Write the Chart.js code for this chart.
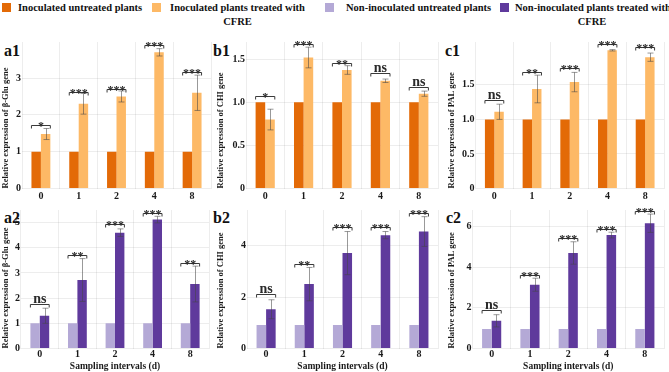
<!DOCTYPE html>
<html>
<head>
<meta charset="utf-8">
<script src="https://cdn.jsdelivr.net/npm/chart.js@4.4.1/dist/chart.umd.min.js"></script>
<style>
  html, body { margin: 0; padding: 0; background: #fff; }
  body { width: 669px; height: 372px; position: relative; overflow: hidden; font-family: "Liberation Serif", "Times New Roman", serif; }
  canvas { position: absolute; }
  .sq { position: absolute; width: 9px; height: 9px; top: 3px; }
  .lg { position: absolute; top: 1px; font-weight: bold; font-size: 10.5px; line-height: 14px; text-align: center; color: #111; white-space: nowrap; }
  .pl { position: absolute; font-weight: bold; font-size: 16px; line-height: 16px; color: #111; }
</style>
</head>
<body>
<div class="sq" style="left:2px;background:#e36a07"></div>
<div class="lg" style="left:18px">Inoculated untreated plants</div>
<div class="sq" style="left:152px;background:#fdb966"></div>
<div class="lg" style="left:170px;width:135px">Inoculated plants treated with<br>CFRE</div>
<div class="sq" style="left:325px;background:#b4a9d6"></div>
<div class="lg" style="left:346px">Non-inoculated untreated plants</div>
<div class="sq" style="left:500px;background:#5f3a9c"></div>
<div class="lg" style="left:515px;width:154px">Non-inoculated plants treated with<br>CFRE</div>

<div class="pl" style="left:4px;top:43px">a1</div>
<div class="pl" style="left:213px;top:43px">b1</div>
<div class="pl" style="left:445px;top:43px">c1</div>
<div class="pl" style="left:4px;top:210px">a2</div>
<div class="pl" style="left:213px;top:210px">b2</div>
<div class="pl" style="left:446px;top:210px">c2</div>

<canvas id="a1" width="213" height="180" style="left:0px;top:26px"></canvas>
<canvas id="b1" width="225" height="180" style="left:215px;top:26px"></canvas>
<canvas id="c1" width="220" height="180" style="left:446px;top:26px"></canvas>
<canvas id="a2" width="211" height="176" style="left:0px;top:196px"></canvas>
<canvas id="b2" width="225" height="176" style="left:215px;top:196px"></canvas>
<canvas id="c2" width="220" height="176" style="left:446px;top:196px"></canvas>

<script>
const days = ["0", "1", "2", "4", "8"];

// a1 - beta-Glu, inoculated
const gluInocUntreated = [1, 1, 1, 1, 1];
const gluInocCfre = [1.48, 2.3, 2.5, 3.7, 2.6];
const gluInocErr = [0.15, 0.28, 0.15, 0.1, 0.48];
const gluInocBracket = [1.73, 2.62, 2.71, 3.91, 3.17];
const gluInocSig = ["*", "***", "***", "***", "***"];

// b1 - CHI, inoculated
const chiInocUntreated = [1, 1, 1, 1, 1];
const chiInocCfre = [0.8, 1.52, 1.375, 1.25, 1.1];
const chiInocErr = [0.12, 0.12, 0.05, 0.02, 0.03];
const chiInocBracket = [1.07, 1.68, 1.46, 1.34, 1.18];
const chiInocSig = ["*", "***", "**", "ns", "ns"];

// c1 - PAL, inoculated
const palInocUntreated = [1, 1, 1, 1, 1];
const palInocCfre = [1.11, 1.44, 1.54, 2.0, 1.9];
const palInocErr = [0.11, 0.2, 0.14, 0.01, 0.06];
const palInocBracket = [1.28, 1.69, 1.74, 2.09, 2.05];
const palInocSig = ["ns", "**", "***", "***", "***"];

// a2 - beta-Glu, non-inoculated
const gluNonUntreated = [1, 1, 1, 1, 1];
const gluNonCfre = [1.3, 2.72, 4.6, 5.12, 2.56];
const gluNonErr = [0.3, 0.85, 0.15, 0.13, 0.71];
const gluNonBracket = [1.76, 3.73, 4.96, 5.4, 3.4];
const gluNonSig = ["ns", "**", "***", "***", "**"];

// b2 - CHI, non-inoculated
const chiNonUntreated = [0.92, 0.92, 0.92, 0.92, 0.92];
const chiNonCfre = [1.53, 2.51, 3.72, 4.42, 4.56];
const chiNonErr = [0.37, 0.65, 0.84, 0.14, 0.58];
const chiNonBracket = [2.14, 3.3, 4.72, 4.75, 5.3];
const chiNonSig = ["ns", "**", "***", "***", "***"];

// c2 - PAL, non-inoculated
const palNonUntreated = [0.96, 0.96, 0.96, 0.96, 0.96];
const palNonCfre = [1.36, 3.13, 4.69, 5.57, 6.15];
const palNonErr = [0.3, 0.32, 0.55, 0.14, 0.45];
const palNonBracket = [1.88, 3.59, 5.42, 5.86, 6.76];
const palNonSig = ["ns", "***", "***", "***", "***"];

const serif = '"Liberation Serif", "Times New Roman", serif';
const tickFont = { family: serif, size: 10, weight: "bold" };
const gridColor = "rgba(0,0,0,0.07)";

// error bars on the treated series + significance brackets
const annotate = {
    id: "annotate",
    afterDatasetsDraw(chart, args, opts) {
        const ctx = chart.ctx;
        const y = chart.scales.y;
        const m0 = chart.getDatasetMeta(0);
        const m1 = chart.getDatasetMeta(1);
        const vals = chart.data.datasets[1].data;
        ctx.save();
        ctx.lineWidth = 1;
        ctx.strokeStyle = "rgba(70,70,70,0.55)";
        m1.data.forEach((bar, i) => {
            const x = Math.round(bar.x) + 0.5;
            const yt = y.getPixelForValue(vals[i] + opts.err[i]);
            const yb = y.getPixelForValue(vals[i] - opts.err[i]);
            ctx.beginPath();
            ctx.moveTo(x, yt); ctx.lineTo(x, yb);
            ctx.moveTo(x - 3, yt); ctx.lineTo(x + 3, yt);
            ctx.moveTo(x - 3, yb); ctx.lineTo(x + 3, yb);
            ctx.stroke();
        });
        ctx.strokeStyle = "#3a3a3a";
        ctx.fillStyle = "#2a2a2a";
        ctx.textAlign = "center";
        ctx.textBaseline = "alphabetic";
        m0.data.forEach((b0, i) => {
            const b1 = m1.data[i];
            const x0 = b0.x - b0.width / 2;
            const x1 = b1.x + b1.width / 2;
            const yb = Math.round(y.getPixelForValue(opts.bracket[i])) + 0.5;
            ctx.beginPath();
            ctx.moveTo(x0, yb + 3); ctx.lineTo(x0, yb); ctx.lineTo(x1, yb); ctx.lineTo(x1, yb + 3);
            ctx.stroke();
            const s = opts.sig[i];
            if (s === "ns") {
                ctx.font = "bold 14px " + serif;
                ctx.fillText(s, (x0 + x1) / 2, yb - 2);
            } else {
                ctx.font = "bold 12px " + serif;
                ctx.fillText(s, (x0 + x1) / 2, yb + 4);
            }
        });
        ctx.restore();
    }
};

function panel(id, p) {
    new Chart(document.getElementById(id), {
        type: "bar",
        data: {
            labels: days,
            datasets: [
                { data: p.untreated, backgroundColor: p.colors[0], categoryPercentage: 0.5, barPercentage: 1 },
                { data: p.treated, backgroundColor: p.colors[1], categoryPercentage: 0.5, barPercentage: 1 }
            ]
        },
        options: {
            responsive: false,
            animation: false,
            devicePixelRatio: 1,
            layout: { padding: { top: p.padTop, right: 2, left: 0, bottom: 0 } },
            plugins: {
                legend: { display: false },
                tooltip: { enabled: false },
                annotate: { err: p.err, bracket: p.bracket, sig: p.sig }
            },
            scales: {
                x: {
                    grid: { color: gridColor, drawTicks: false },
                    border: { display: false },
                    ticks: { font: tickFont, color: "#1a1a1a", padding: p.xPad },
                    title: {
                        display: !!p.xTitle,
                        text: p.xTitle || "",
                        font: { family: serif, size: 9.5, weight: "bold" },
                        color: "#1a1a1a",
                        padding: 0
                    },
                    afterFit: s => { s.height = p.xHeight; }
                },
                y: {
                    min: 0,
                    max: p.max,
                    grid: { color: gridColor, drawTicks: false },
                    border: { display: false },
                    ticks: { stepSize: p.step, font: tickFont, color: "#1a1a1a", padding: 1 },
                    afterBuildTicks: s => {
                        s.ticks = s.ticks.filter(t => Math.abs(t.value / p.step - Math.round(t.value / p.step)) < 1e-6);
                    },
                    title: {
                        display: true,
                        text: p.yTitle,
                        align: "start",
                        font: { family: serif, size: 8.5, weight: "bold" },
                        color: "#1a1a1a",
                        padding: { top: 1, bottom: 0 }
                    },
                    afterFit: s => { s.width = p.yWidth; }
                }
            }
        },
        plugins: [annotate]
    });
}

const inocColors = ["#e36a07", "#fdb966"];
const nonColors = ["#b4a9d6", "#5f3a9c"];

panel("a1", { untreated: gluInocUntreated, treated: gluInocCfre, err: gluInocErr, bracket: gluInocBracket, sig: gluInocSig,
    colors: inocColors, max: 3.98, step: 1, yTitle: "Relative expression of β-Glu gene", yWidth: 22, xHeight: 17.5, padTop: 16, xPad: 2 });
panel("b1", { untreated: chiInocUntreated, treated: chiInocCfre, err: chiInocErr, bracket: chiInocBracket, sig: chiInocSig,
    colors: inocColors, max: 1.7, step: 0.5, yTitle: "Relative expression of CHI gene", yWidth: 31, xHeight: 17.5, padTop: 16, xPad: 2 });
panel("c1", { untreated: palInocUntreated, treated: palInocCfre, err: palInocErr, bracket: palInocBracket, sig: palInocSig,
    colors: inocColors, max: 2.12, step: 0.5, yTitle: "Relative expression of PAL gene", yWidth: 29.5, xHeight: 17.5, padTop: 16, xPad: 2 });
panel("a2", { untreated: gluNonUntreated, treated: gluNonCfre, err: gluNonErr, bracket: gluNonBracket, sig: gluNonSig,
    colors: nonColors, max: 5.5, step: 1, yTitle: "Relative expression of β-Glu gene", xTitle: "Sampling intervals (d)", yWidth: 21, xHeight: 23.5, padTop: 14, xPad: 0 });
panel("b2", { untreated: chiNonUntreated, treated: chiNonCfre, err: chiNonErr, bracket: chiNonBracket, sig: chiNonSig,
    colors: nonColors, max: 5.4, step: 2, yTitle: "Relative expression of CHI gene", xTitle: "Sampling intervals (d)", yWidth: 32, xHeight: 23.5, padTop: 14, xPad: 0 });
panel("c2", { untreated: palNonUntreated, treated: palNonCfre, err: palNonErr, bracket: palNonBracket, sig: palNonSig,
    colors: nonColors, max: 6.8, step: 2, yTitle: "Relative expression of PAL gene", xTitle: "Sampling intervals (d)", yWidth: 26.5, xHeight: 23.5, padTop: 14, xPad: 0 });
</script>
</body>
</html>
